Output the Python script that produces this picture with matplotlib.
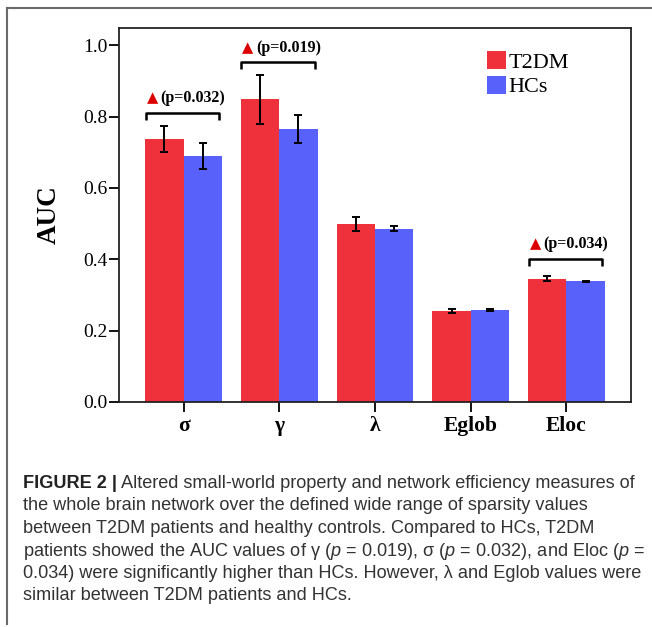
import matplotlib
matplotlib.use("Agg")
import matplotlib.pyplot as plt
from matplotlib.lines import Line2D
from matplotlib.patches import Patch
import numpy as np

# ---------------- data ----------------
categories = ["σ", "γ", "λ", "Eglob", "Eloc"]
t2dm_vals = [0.737, 0.848, 0.499, 0.256, 0.346]
t2dm_err = [0.037, 0.068, 0.019, 0.006, 0.008]
hcs_vals = [0.690, 0.765, 0.486, 0.259, 0.338]
hcs_err = [0.037, 0.038, 0.006, 0.003, 0.002]
series_names = ["T2DM", "HCs"]
yticks = [0.0, 0.2, 0.4, 0.6, 0.8, 1.0]
ytick_labels = ["0.0", "0.2", "0.4", "0.6", "0.8", "1.0"]

sig_idx = [0, 1, 4]
sig_labels = ["(p=0.032)", "(p=0.019)", "(p=0.034)"]
sig_bracket_y = [0.809, 0.952, 0.400]
sig_bracket_drop = [0.019, 0.019, 0.019]
sig_text_y = [0.852, 0.992, 0.443]

caption_bold = "FIGURE 2 |"
caption_lines = [
    " Altered small-world property and network efficiency measures of",
    "the whole brain network over the defined wide range of sparsity values",
    "between T2DM patients and healthy controls. Compared to HCs, T2DM",
    "patients showed the AUC values of γ ($p$ = 0.019), σ ($p$ = 0.032), and Eloc ($p$ =",
    "0.034) were significantly higher than HCs. However, λ and Eglob values were",
    "similar between T2DM patients and HCs.",
]

RED = "#EE313B"
BLUE = "#5961FB"

plt.rcParams["mathtext.fontset"] = "custom"
plt.rcParams["mathtext.rm"] = "Liberation Sans"
plt.rcParams["mathtext.it"] = "Liberation Sans:italic"

W, H = 652, 627
fig = plt.figure(figsize=(W / 100, H / 100), dpi=100)

# outer frame lines (grey)
fig.add_artist(Line2D([7 / W, 7 / W], [1 - 8 / H, 1 - 624 / H], color="#6a6a6a", lw=1.5))
fig.add_artist(Line2D([7 / W, 1.0], [1 - 8 / H, 1 - 8 / H], color="#6a6a6a", lw=1.5))

ax_l, ax_r, ax_t, ax_b = 119, 631, 28, 402
ax = fig.add_axes([ax_l / W, 1 - ax_b / H, (ax_r - ax_l) / W, (ax_b - ax_t) / H])

x = np.arange(len(categories))
bw = 0.4
ekw = dict(elinewidth=1.4, capthick=1.4, ecolor="black")
ax.bar(x - bw / 2, t2dm_vals, bw, yerr=t2dm_err, color=RED, capsize=3.2,
       error_kw=ekw, zorder=2)
ax.bar(x + bw / 2, hcs_vals, bw, yerr=hcs_err, color=BLUE, capsize=3.2,
       error_kw=ekw, zorder=2)

ax.set_xlim(-0.675, len(categories) - 1 + 0.675)
ax.set_ylim(0, 1.048)
ax.set_yticks(yticks)
ax.set_yticklabels(ytick_labels, fontfamily="Liberation Serif", fontsize=14)
ax.set_xticks(x)
ax.set_xticklabels(categories, fontfamily="Liberation Serif", fontsize=15.5,
                   fontweight="bold")
ax.tick_params(axis="y", direction="out", length=7, width=1.3, pad=1)
ax.tick_params(axis="x", direction="out", length=7, width=1.3, pad=3)
for s in ax.spines.values():
    s.set_linewidth(1.3)
    s.set_color("#222222")

ax.set_ylabel("AUC", fontfamily="Liberation Serif", fontsize=19.5,
              fontweight="bold", labelpad=16)

# significance brackets
for i, lab, by, dr, ty in zip(sig_idx, sig_labels, sig_bracket_y,
                              sig_bracket_drop, sig_text_y):
    x0, x1 = x[i] - 0.395, x[i] + 0.37
    ax.plot([x0, x0, x1, x1], [by - dr, by, by, by - dr], color="black",
            lw=1.8, solid_capstyle="butt", zorder=3, clip_on=False)
    ax.annotate("▲", xy=(x[i], ty), xytext=(-22.5, 0), textcoords="offset points",
                ha="center", va="center", color="#DD0000", fontsize=10.5,
                fontfamily="DejaVu Sans")
    ax.annotate(lab, xy=(x[i], ty), xytext=(-16.5, 0), textcoords="offset points",
                ha="left", va="center", color="black", fontsize=11.5,
                fontfamily="Liberation Serif", fontweight="bold")

handles = [Patch(facecolor=RED, edgecolor="none"), Patch(facecolor=BLUE, edgecolor="none")]
leg = ax.legend(handles, series_names, loc="upper left",
                bbox_to_anchor=((487 - ax_l) / (ax_r - ax_l), (ax_b - 51) / (ax_b - ax_t)),
                frameon=False, borderpad=0, borderaxespad=0, handlelength=0.85,
                handleheight=0.85, handletextpad=0.12, labelspacing=0.15,
                prop=dict(family="Liberation Serif", size=16))

# caption
cap_color = "#333333"
fs = 11.2
fig.canvas.draw()
r = fig.canvas.get_renderer()
tb = fig.text(23 / W, 0, caption_bold, fontfamily="Liberation Sans", fontweight="bold",
              fontsize=fs, color="#222222")
tr = fig.text(0, 0, caption_lines[0], fontfamily="Liberation Sans", fontsize=fs,
              color=cap_color)
wb = tb.get_window_extent(r).width
wr = tr.get_window_extent(r).width
fs = fs * 612 / (wb + wr)
tb.remove()
tr.remove()

baselines = [488, 510.5, 533, 555.5, 578, 600.5]
tb = fig.text(23 / W, 1 - baselines[0] / H, caption_bold, fontfamily="Liberation Sans",
              fontweight="bold", fontsize=fs, color="#222222", va="baseline")
wb = tb.get_window_extent(r).width
fig.text((23 + wb) / W, 1 - baselines[0] / H, caption_lines[0],
         fontfamily="Liberation Sans", fontsize=fs, color=cap_color, va="baseline")
for line, yb in zip(caption_lines[1:], baselines[1:]):
    fig.text(23 / W, 1 - yb / H, line, fontfamily="Liberation Sans", fontsize=fs,
             color=cap_color, va="baseline")

fig.savefig("out.png", dpi=100)
